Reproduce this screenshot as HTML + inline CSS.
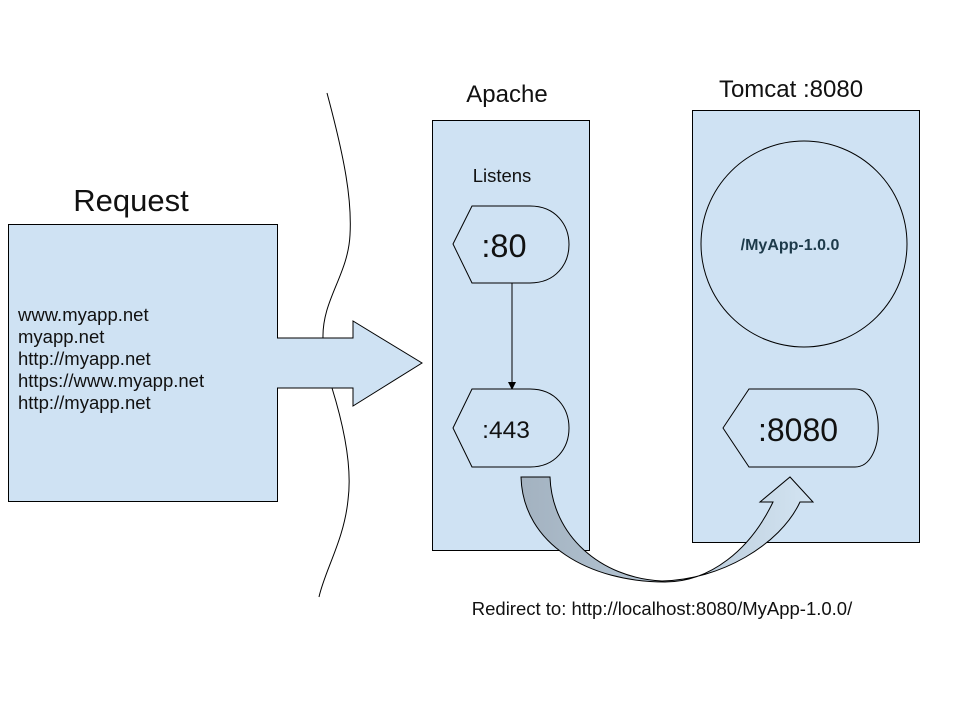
<!DOCTYPE html>
<html><head><meta charset="utf-8"><style>
html,body{margin:0;padding:0;background:#fff;}
svg{display:block;font-family:"Liberation Sans",Arial,sans-serif;}
</style></head><body>
<svg width="960" height="720" viewBox="0 0 960 720" xmlns="http://www.w3.org/2000/svg">
<defs>
<linearGradient id="g" x1="521" y1="0" x2="813" y2="0" gradientUnits="userSpaceOnUse">
<stop offset="0" stop-color="#a3b2c0"/><stop offset="0.5" stop-color="#b6c7d6"/><stop offset="1" stop-color="#d3e4f2"/>
</linearGradient>
</defs>
<rect width="960" height="720" fill="#fff"/>
<!-- Request -->
<text x="131" y="211" font-size="31" text-anchor="middle" fill="#111">Request</text>
<rect x="8.5" y="224.5" width="269" height="277" fill="#cfe2f3" stroke="#000" stroke-width="1"/>
<g font-size="18.5" fill="#111">
<text x="18" y="321">www.myapp.net</text>
<text x="18" y="343">myapp.net</text>
<text x="18" y="365">http://myapp.net</text>
<text x="18" y="387">https://www.myapp.net</text>
<text x="18" y="409">http://myapp.net</text>
</g>
<!-- big arrow -->
<path d="M277,338 L353,338 L353,321 L422,363 L353,406 L353,388 L277,388" fill="#cfe2f3" stroke="#000" stroke-width="1"/>
<rect x="276" y="339" width="3" height="48" fill="#cfe2f3"/>
<!-- wavy lines -->
<path d="M327,93 C345,160 352,200 350,235 C348,275 322,300 323,338" fill="none" stroke="#000" stroke-width="1"/>
<path d="M332,388 C345,430 352,470 348,500 C344,540 325,570 319,597" fill="none" stroke="#000" stroke-width="1"/>
<!-- Apache -->
<text x="507" y="102" font-size="24" text-anchor="middle" fill="#111">Apache</text>
<rect x="432.5" y="120.5" width="157" height="430" fill="#cfe2f3" stroke="#000" stroke-width="1"/>
<text x="502" y="182" font-size="18.5" text-anchor="middle" fill="#111">Listens</text>
<path d="M453,244 L472,206 L530,206 C582,206 582,283 530,283 L472,283 Z" fill="#cfe2f3" stroke="#000" stroke-width="1"/>
<text x="504" y="257" font-size="32.5" text-anchor="middle" fill="#111">:80</text>
<line x1="512" y1="283" x2="512" y2="383" stroke="#000" stroke-width="1"/>
<path d="M508,382 L516,382 L512,390 Z" fill="#000"/>
<path d="M453,428 L472,389 L530,389 C582,389 582,467 530,467 L472,467 Z" fill="#cfe2f3" stroke="#000" stroke-width="1"/>
<text x="506" y="438" font-size="24.5" text-anchor="middle" fill="#111">:443</text>
<!-- Tomcat -->
<text x="791" y="97" font-size="24" text-anchor="middle" fill="#111">Tomcat :8080</text>
<rect x="692.5" y="110.5" width="227" height="432" fill="#cfe2f3" stroke="#000" stroke-width="1"/>
<circle cx="804" cy="244" r="103" fill="#cfe2f3" stroke="#000" stroke-width="1"/>
<text x="790" y="250" font-size="16" font-weight="bold" text-anchor="middle" fill="#1d3a4a">/MyApp-1.0.0</text>
<path d="M723,428 L749,389 L855,389 C886,389 886,467 855,467 L749,467 Z" fill="#cfe2f3" stroke="#000" stroke-width="1"/>
<text x="798" y="441" font-size="32" text-anchor="middle" fill="#111">:8080</text>
<!-- curved arrow -->
<path d="M521,477 L550,477 C552,535 600,578 662,581 C720,580 780,545 800,502 L813,502 L790,477 L760,502 L773,502 C750,550 710,582 665,582 C590,582 523,545 521,477 Z" fill="url(#g)" stroke="#000" stroke-width="1"/>
<text x="662" y="615" font-size="18.5" text-anchor="middle" fill="#111">Redirect to: http://localhost:8080/MyApp-1.0.0/</text>
</svg>
</body></html>
